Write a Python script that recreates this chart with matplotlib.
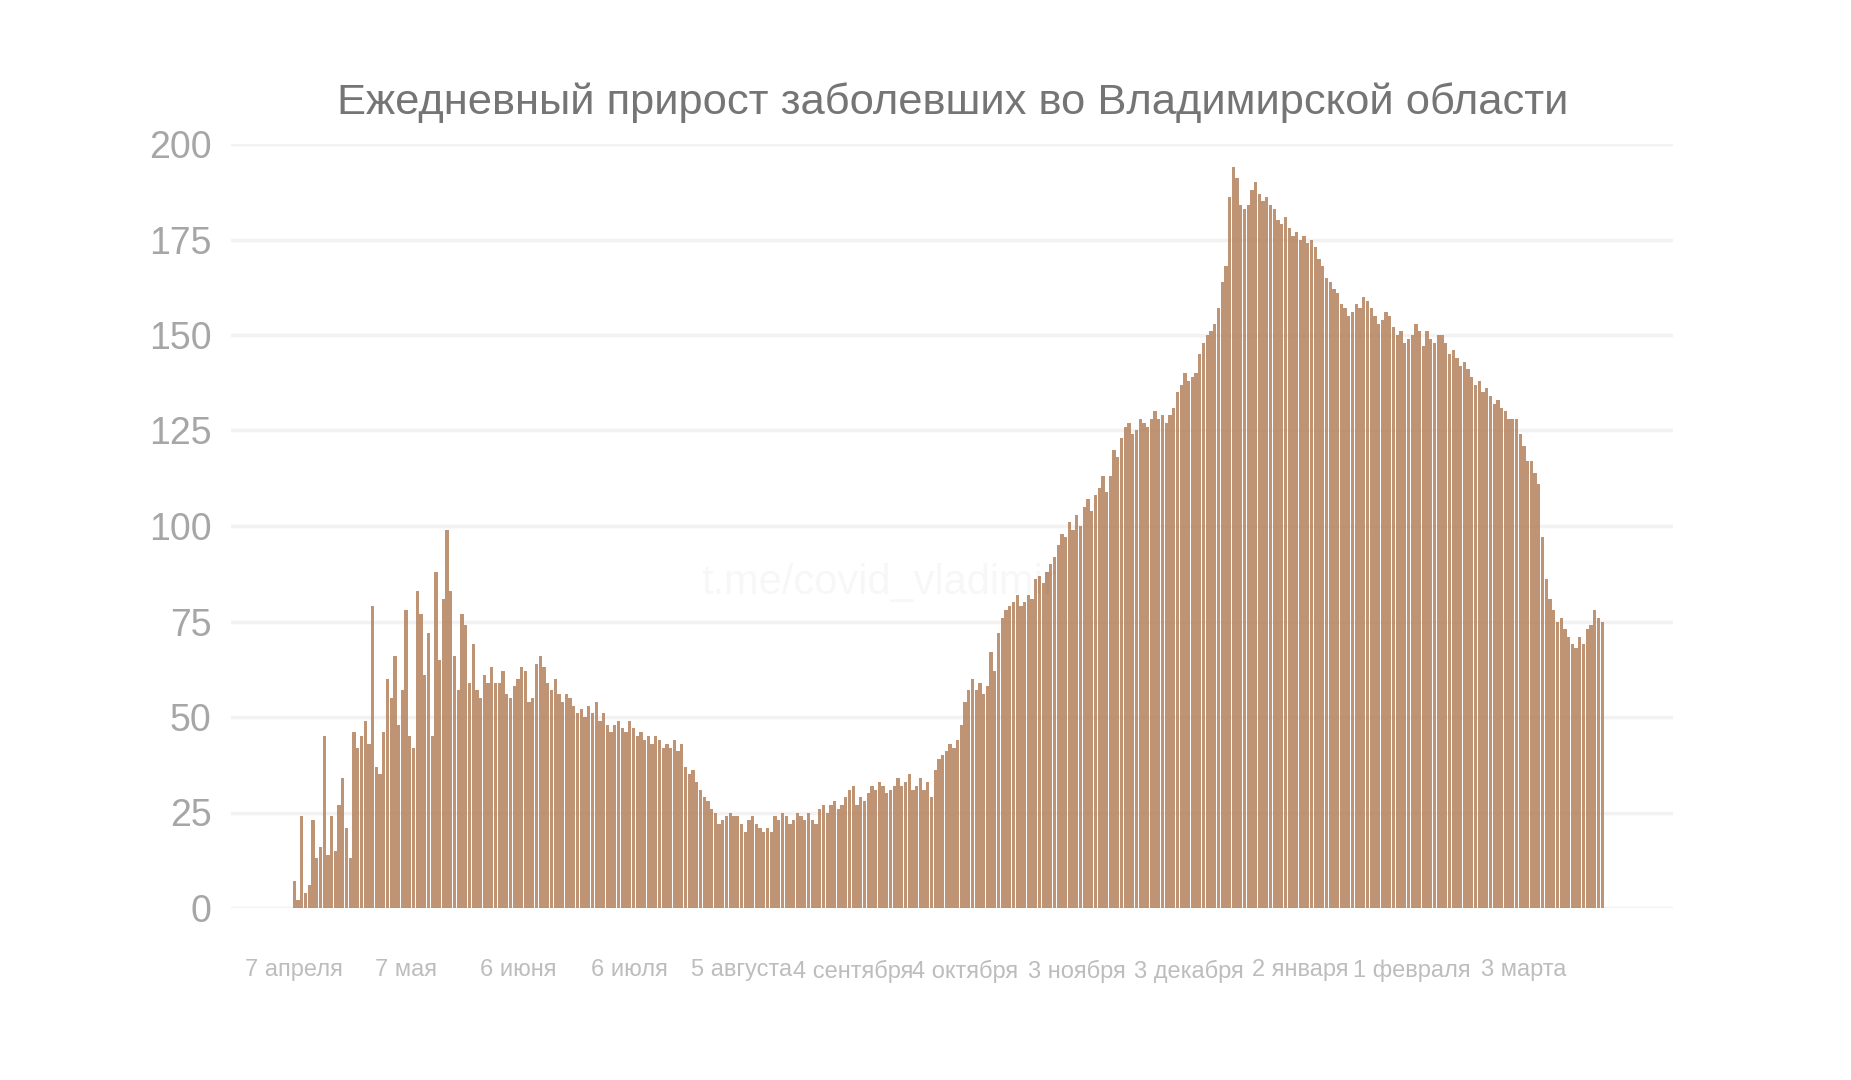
import matplotlib
matplotlib.use("Agg")
import matplotlib.pyplot as plt
import numpy as np

part1 = [7,2,24,4,6,23,13,16,45,14,24,15,27,34,21,13,46,42,45,49,43,79,37,35,46,60,55,66,48,57,
         78,45,42,83,77,61,72,45,88,65,81,99,83,66,57,77,74,59,69,57,55,61,59,63,59,59,62,56,55,58,
         60,63,62,54,55,64,66,63,59,57,60,56,54,56,55,53,51,52,50,53,51,54,49,51,48,46,48,49,47,46,
         49,47,45,46,44,45,43,45,44,42,43,42,44,41,43,37,35,36]
part2 = [33,31,29,28,26,25,22,23,24,25,24,24,22,20,23,24,22,21,20,21,20,24,23,25,24,22,23,25,24,23,
         25,23,22,26,27,25,27,28,26,27,29,31,32,27,29,28,30,32,31,33,32,30,31,32,34,32,33,35,31,32,
         34,31,33,29,36,39,40,41,43,42,44,48,54,57,60,57,59,56,58,67,62,72,76,78,79,80,82,79,80,82,
         81,86,87,85,88,90,92,95,98,97,101,99,103,100,105,107,104,108,110,113,109,113,120,118,123,126,127,124,125,128,
         127,126,128,130,128,129,127,129,131,135,137,140,138,139,140,145,148]
part3 = [150,151,153,157,164,168,186,194,191,184,183,184,188,190,187,185,186,184,183,180,179,181,178,176,177,175,176,174,175,173,
         170,168,165,164,162,161,158,157,155,156,158,157,160,159,157,155,153,154,156,155,152,150,151,148,149,150,153,151,147,151,
         149,148,150,150,148,145,146,144,142,143,141,139,137,138,135,136,134,132,133,131,130,128,128,128,124,121,117,117,114,111,
         97,86,81,78,75,76,73,71,69,68,71,69,73,74,78,76,75]
values = part1 + part2 + part3

tick_labels = ["7 апреля", "7 мая", "6 июня", "6 июля", "5 августа", "4 сентября", "4 октября",
               "3 ноября", "3 декабря", "2 января", "1 февраля", "3 марта"]
tick_days = [0, 30, 60, 90, 120, 150, 180, 210, 240, 270, 300, 330]

plt.rcParams["font.family"] = "Liberation Sans"
fig = plt.figure(figsize=(18.51, 10.80), dpi=100)
ax = fig.add_axes([231/1851, 1-908/1080, (1673-231)/1851, (908-144)/1080])
x = np.arange(len(values))
ax.bar(x, values, width=0.88, color="#b07a52", alpha=0.8, linewidth=0)
ax.set_ylim(0, 200)
ax.set_xlim(-17, 370)
ax.set_yticks([0, 25, 50, 75, 100, 125, 150, 175, 200])
ax.set_xticks(tick_days)
ax.set_xticklabels(tick_labels)
ax.grid(axis="y", color="#f2f2f2", linewidth=2.5)
ax.set_axisbelow(True)
for s in ax.spines.values():
    s.set_visible(False)
ax.tick_params(axis="y", length=0, labelsize=27, colors="#a6a6a6", pad=14)
ax.tick_params(axis="x", length=0, labelsize=17, colors="#bdbdbd", pad=37)
fig.text(953/1851, 1-103/1080, "Ежедневный прирост заболевших во Владимирской области",
         ha="center", va="center", fontsize=31.3, color="#757575")
fig.text(0.475, 1-583/1080, "t.me/covid_vladimir", ha="center", va="center", fontsize=30, color="#000000", alpha=0.03)
fig.savefig("out.png", dpi=100)
